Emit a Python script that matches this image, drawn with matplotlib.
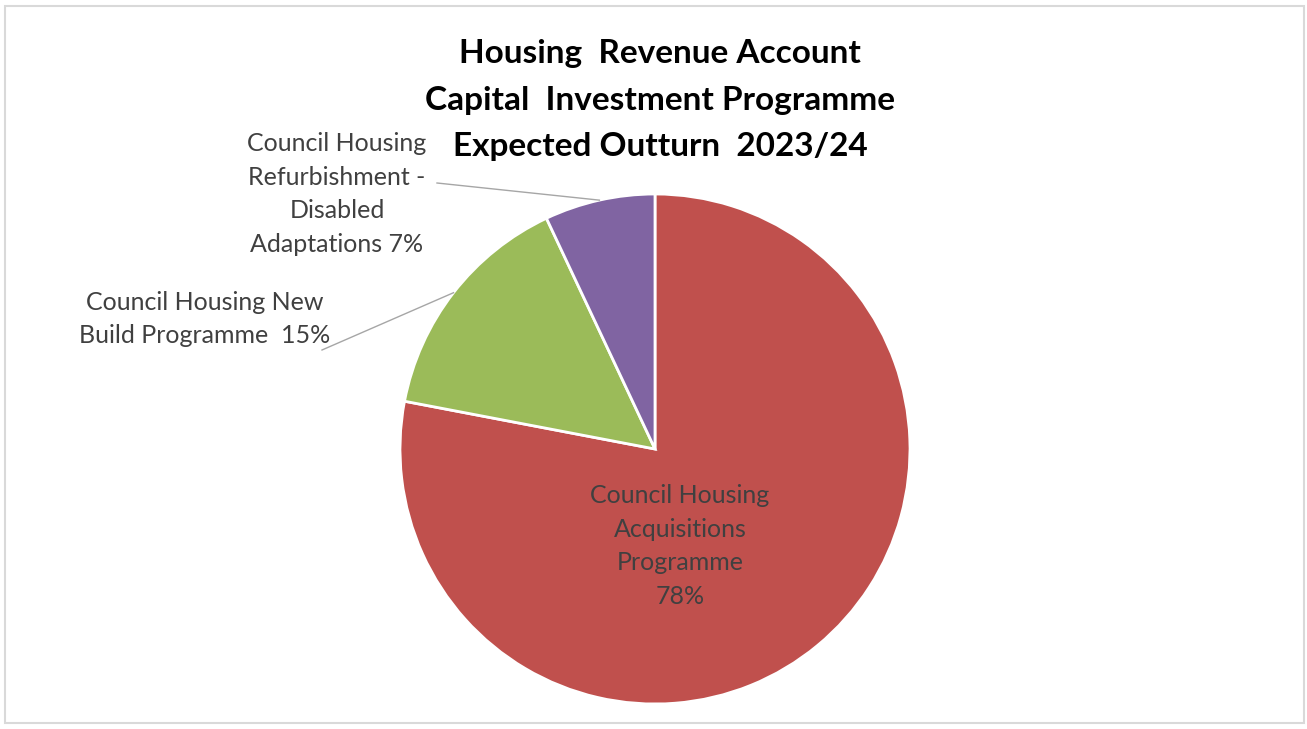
import numpy as np
import matplotlib.pyplot as plt
from matplotlib.patches import Rectangle

plt.rcParams['font.family'] = ['Lato', 'DejaVu Sans']

# data
categories = [
    "Council Housing\nAcquisitions\nProgramme\n78%",
    "Council Housing New\nBuild Programme  15%",
    "Council Housing\nRefurbishment -\nDisabled\nAdaptations 7%",
]
values = [78, 15, 7]
colors = ["#C0504D", "#9BBB59", "#8064A2"]
title = "Housing  Revenue Account\nCapital  Investment Programme\nExpected Outturn  2023/24"

W, H = 1307, 729
fig = plt.figure(figsize=(W / 100, H / 100), dpi=100)
ax = fig.add_axes([0, 0, 1, 1])

cx, cy, r = 655, H - 449, 255
wedges, _ = ax.pie(values, colors=colors, startangle=90, counterclock=False,
                   center=(cx, cy), radius=r, frame=True,
                   wedgeprops=dict(edgecolor="white", linewidth=2))
ax.set_xlim(0, W)
ax.set_ylim(0, H)
ax.set_aspect('equal')
ax.axis('off')

txt = dict(fontsize=18, color="#404040", ha="center", va="center",
           linespacing=1.57)

# inside label for the big slice
ax.text(680, H - 546, categories[0], **txt)

# outside labels with leader lines
ax.text(205, H - 319, categories[1], **txt)
ax.text(337, H - 194, categories[2], **txt)


def edge_point(w):
    a = np.deg2rad((w.theta1 + w.theta2) / 2)
    return cx + r * np.cos(a), cy + r * np.sin(a)

ex, ey = edge_point(wedges[1])
ax.plot([322, ex], [H - 350, ey], color="#a6a6a6", lw=1)
ex, ey = edge_point(wedges[2])
ax.plot([437, ex], [H - 183, ey], color="#a6a6a6", lw=1)

ax.text(660, H - 100, title, fontsize=24, fontweight="bold", color="black",
        ha="center", va="center", linespacing=1.73)

fig.patches.append(Rectangle((5 / W, 6 / H), 1299 / W, 717 / H,
                             transform=fig.transFigure, fill=False,
                             edgecolor="#d9d9d9", lw=1.5))

fig.savefig("out.png", dpi=100)
